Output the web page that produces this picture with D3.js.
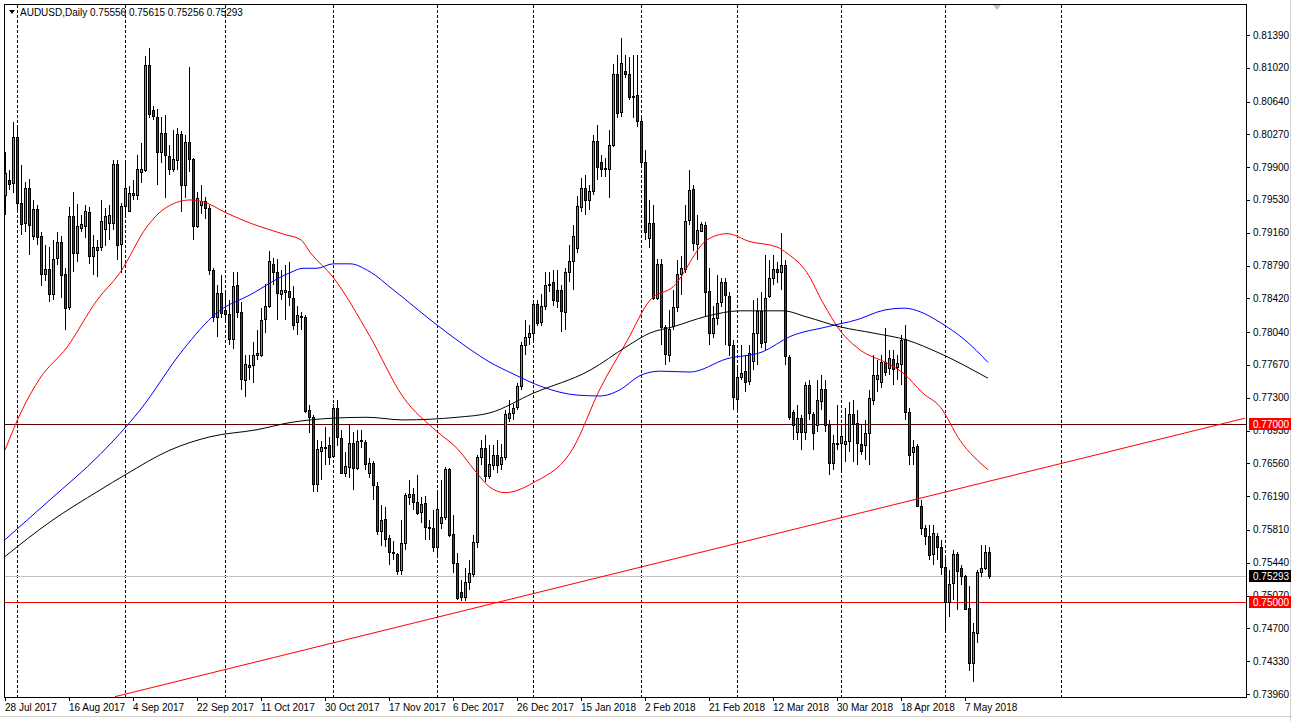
<!DOCTYPE html>
<html><head><meta charset="utf-8">
<script src="https://cdn.jsdelivr.net/npm/d3@7"></script>
<style>body{margin:0;background:#fff}text{font-family:"Liberation Sans",Arial,sans-serif;font-size:10px}</style>
</head><body>
<script>
// daily candles, prices in 1/10000 (o,h,l,c)
const candles = [
[7958,8007,7936,7983],[7976,7987,7964,7972],[7972,8041,7961,8024],[8024,8037,7939,7950],[7950,7992,7913,7926],
[7926,7973,7917,7966],[7966,7977,7891,7924],[7913,7953,7908,7943],[7943,7947,7902,7911],[7912,7917,7856,7869],
[7869,7902,7862,7875],[7875,7900,7838,7847],[7847,7908,7840,7887],[7888,7917,7880,7906],[7906,7912,7843,7869],
[7869,7876,7806,7831],[7832,7945,7829,7935],[7935,7962,7872,7893],[7893,7948,7883,7924],[7921,7936,7917,7926],
[7924,7947,7910,7941],[7940,7945,7881,7890],[7890,7913,7868,7900],[7897,7908,7866,7900],[7900,7953,7896,7929],
[7920,7944,7901,7935],[7927,7947,7908,7936],[7927,7998,7919,7994],[7994,7998,7885,7903],[7903,7950,7871,7946],
[7946,7998,7936,7966],[7941,7969,7939,7961],[7959,7975,7953,7961],[7959,8004,7953,7988],[7985,8017,7972,7988],
[7987,8115,7984,8105],[8105,8124,8045,8050],[8054,8059,8043,8047],[8047,8056,7970,8007],[8007,8047,7995,8028],
[8028,8049,7955,8003],[8003,8015,7981,7988],[7988,8032,7984,7999],[7998,8034,7987,8027],[8027,8031,7939,7969],
[7969,8026,7955,8018],[8018,8103,7984,7999],[7999,8000,7908,7923],[7923,7962,7921,7955],[7948,7970,7937,7952],
[7952,7956,7931,7944],[7944,7947,7868,7874],[7874,7876,7815,7821],[7821,7857,7798,7848],[7848,7868,7820,7825],
[7829,7849,7815,7824],[7824,7840,7790,7796],[7796,7872,7785,7856],[7857,7872,7820,7827],[7827,7838,7739,7751],
[7750,7778,7731,7768],[7765,7778,7750,7767],[7767,7793,7747,7778],[7779,7806,7773,7781],[7779,7831,7776,7818],
[7818,7858,7803,7833],[7833,7896,7831,7884],[7881,7888,7857,7872],[7872,7887,7818,7848],[7848,7874,7840,7852],
[7850,7880,7818,7852],[7850,7883,7833,7843],[7843,7856,7806,7812],[7815,7834,7801,7823],[7821,7827,7806,7822],
[7821,7823,7713,7715],[7716,7722,7690,7708],[7708,7711,7624,7633],[7633,7682,7624,7672],[7669,7681,7637,7674],
[7674,7697,7654,7675],[7677,7686,7654,7664],[7665,7723,7662,7719],[7718,7727,7676,7685],[7685,7694,7645,7645],
[7645,7669,7641,7653],[7652,7699,7640,7679],[7679,7691,7626,7651],[7651,7694,7649,7681],[7681,7694,7673,7682],
[7680,7682,7649,7655],[7645,7662,7640,7656],[7656,7659,7615,7631],[7631,7635,7575,7580],[7580,7609,7563,7592],
[7593,7607,7562,7571],[7572,7575,7542,7556],[7556,7569,7547,7555],[7554,7555,7530,7535],[7535,7592,7530,7566],
[7566,7623,7558,7620],[7619,7637,7609,7622],[7622,7628,7604,7613],[7613,7643,7598,7601],[7601,7618,7589,7610],
[7611,7619,7570,7584],[7584,7592,7570,7583],[7583,7604,7556,7562],[7562,7626,7553,7605],[7589,7637,7582,7596],
[7596,7652,7592,7650],[7650,7651,7573,7576],[7576,7598,7532,7543],[7544,7555,7502,7505],[7511,7525,7501,7505],
[7505,7538,7501,7522],[7522,7547,7513,7532],[7531,7575,7528,7567],[7567,7665,7561,7663],[7663,7682,7654,7673],
[7673,7688,7635,7641],[7641,7677,7638,7655],[7655,7677,7649,7666],[7666,7682,7645,7655],[7655,7678,7649,7663],
[7663,7716,7660,7712],[7707,7727,7703,7713],[7713,7723,7705,7719],[7719,7747,7716,7743],[7743,7793,7739,7789],
[7789,7818,7778,7798],[7798,7812,7789,7803],[7803,7840,7795,7836],[7836,7840,7811,7815],[7815,7847,7811,7833],
[7833,7872,7829,7857],[7857,7872,7849,7858],[7860,7874,7834,7840],[7852,7874,7831,7840],[7851,7857,7804,7827],
[7827,7876,7806,7872],[7872,7902,7861,7884],[7884,7925,7851,7912],[7899,7957,7893,7946],[7946,7978,7939,7967],
[7967,7981,7936,7953],[7953,7970,7942,7963],[7963,8026,7959,8019],[8019,8037,7975,7990],[7996,8004,7979,7988],
[7988,8000,7979,7989],[7988,8032,7955,8015],[8015,8106,8013,8095],[8095,8116,8045,8051],[8052,8136,8046,8107],
[8098,8116,8090,8095],[8095,8114,8066,8069],[8070,8116,8045,8069],[8071,8116,8035,8042],[8042,8049,7992,7996],
[7996,8009,7908,7917],[7910,7953,7899,7927],[7927,7947,7840,7843],[7843,7887,7840,7881],[7881,7887,7790,7810],
[7810,7812,7767,7779],[7778,7829,7770,7807],[7811,7851,7806,7832],[7832,7885,7827,7869],[7869,7890,7846,7876],
[7875,7947,7871,7929],[7930,7987,7925,7964],[7965,7970,7896,7904],[7903,7936,7885,7919],[7918,7928,7917,7926],
[7925,7928,7821,7849],[7850,7876,7790,7803],[7803,7834,7797,7820],[7820,7868,7812,7837],[7837,7865,7832,7860],
[7860,7865,7790,7845],[7845,7849,7777,7790],[7789,7795,7716,7730],[7728,7767,7713,7753],[7753,7789,7750,7758],
[7760,7778,7737,7748],[7748,7789,7744,7780],[7771,7840,7761,7803],[7803,7842,7767,7828],[7828,7849,7786,7792],
[7792,7891,7784,7842],[7845,7885,7842,7865],[7865,7891,7857,7875],[7875,7883,7859,7872],[7872,7916,7851,7880],
[7880,7885,7767,7777],[7776,7778,7705,7708],[7714,7716,7682,7699],[7691,7722,7682,7707],[7707,7711,7671,7691],
[7691,7748,7682,7744],[7744,7750,7705,7712],[7712,7714,7671,7691],[7699,7750,7691,7727],[7727,7756,7716,7740],
[7740,7750,7691,7699],[7699,7705,7643,7656],[7656,7688,7649,7679],[7678,7722,7671,7679],[7679,7699,7649,7687],
[7678,7718,7658,7681],[7681,7725,7669,7712],[7712,7727,7658,7701],[7701,7716,7654,7678],[7678,7699,7665,7670],
[7677,7705,7660,7690],[7691,7739,7654,7730],[7728,7778,7722,7756],[7751,7773,7737,7756],[7748,7778,7741,7770],
[7770,7809,7754,7759],[7764,7784,7756,7775],[7774,7784,7744,7763],[7764,7778,7750,7769],[7768,7801,7744,7795],
[7796,7812,7705,7714],[7714,7719,7654,7665],[7668,7682,7654,7674],[7676,7678,7608,7608],[7608,7615,7575,7583],
[7583,7587,7564,7574],[7574,7587,7547,7553],[7553,7587,7541,7577],[7574,7578,7547,7562],[7562,7570,7530,7539],
[7539,7553,7468,7500],[7500,7536,7483,7520],[7521,7558,7502,7554],[7554,7556,7491,7535],[7538,7542,7519,7529],
[7529,7530,7491,7492],[7493,7518,7422,7431],[7431,7476,7410,7466],[7465,7536,7454,7534],[7534,7564,7528,7538],
[7538,7564,7536,7556],[7556,7562,7526,7529]
];
// moving averages: [bar, price*10000]
const maRed = [[0,7671],[4.25,7716],[8.75,7752],[15.5,7787],[23,7840],[28.75,7871],[35.5,7923],[39.5,7942],[46.25,7953],[49.5,7951],[55.5,7938],[61.25,7927],[70,7914],[74,7908],[76.25,7894],[82,7866],[91.25,7799],[99.5,7731],[108,7692],[113,7673],[118,7645],[121.25,7629],[125,7623],[132,7634],[142,7673],[148.75,7740],[155.5,7794],[161.25,7840],[167,7855],[175.5,7908],[180.5,7915],[186.25,7906],[193,7900],[195.5,7893],[200.5,7871],[204.5,7837],[208.75,7806],[213.75,7784],[220.5,7769],[224.5,7758],[229.5,7735],[233.75,7720],[238.75,7682],[245.75,7649]];
const maBlue = [[0,7570],[11.25,7615],[23.75,7666],[33.75,7716],[44.5,7784],[53,7826],[61.25,7846],[71.25,7871],[74.5,7876],[78,7876],[82,7881],[86.25,7881],[91.25,7872],[97,7852],[108,7812],[115.5,7787],[121.25,7770],[127,7757],[134.5,7742],[143,7733],[148.75,7732],[153.75,7739],[158.75,7755],[163.75,7760],[171.25,7759],[180.5,7774],[189.5,7782],[196.25,7799],[205.5,7810],[213,7818],[220,7829],[225,7831],[228.75,7827],[233.75,7815],[240,7795],[245.75,7770]];
const maBlack = [[0,7551],[11.25,7590],[23.75,7626],[30,7643],[41.25,7671],[51.25,7686],[63,7694],[71.25,7702],[82,7707],[90.5,7708],[99.5,7705],[113,7708],[121.25,7713],[132,7735],[146.25,7761],[155.5,7788],[161.25,7803],[167,7810],[175.5,7822],[183.75,7828],[194.5,7828],[200.5,7821],[208.75,7810],[217,7803],[225.5,7795],[233.75,7780],[245.75,7752]];
const dateLabels = ["28 Jul 2017","16 Aug 2017","4 Sep 2017","22 Sep 2017","11 Oct 2017","30 Oct 2017","17 Nov 2017","6 Dec 2017","26 Dec 2017","15 Jan 2018","2 Feb 2018","21 Feb 2018","12 Mar 2018","30 Mar 2018","18 Apr 2018","7 May 2018"];
const dateBars = [0,16,32,48,64,80,96,112,128,144,160,176,192,208,224,240];
const monthBars = [3,30,55,82,108,132,159,183,209,235,264];
const priceTicks = [0.8139,0.8102,0.8064,0.8027,0.7990,0.7953,0.7916,0.7879,0.7842,0.7804,0.7767,0.7730,0.7693,0.7656,0.7619,0.7581,0.7544,0.7507,0.7470,0.7433,0.7396];
const levels = [0.7700, 0.7500];
const lastPrice = 0.75293;
const trend = [[27.5,0.7393],[310,0.7707]];

const W = 1292, H = 721, plotR = 1246, plotT = 5, plotB = 697;
const svg = d3.select('body').append('svg').attr('width', W).attr('height', H);
svg.append('rect').attr('width', W).attr('height', H).attr('fill', '#fff');

const x = d3.scaleLinear().domain([0, 246]).range([5, 989]);
const y = d3.scaleLinear().domain([0.7396, 0.8139]).range([694, 35]);
svg.append('clipPath').attr('id', 'c').append('rect')
	.attr('x', 5).attr('y', plotT).attr('width', plotR - 5).attr('height', plotB - plotT);
const g = svg.append('g').attr('clip-path', 'url(#c)').attr('shape-rendering', 'crispEdges');

// month separators
g.selectAll('.vg').data(monthBars).enter().append('line')
	.attr('x1', d => Math.round(x(d)) + 0.5).attr('x2', d => Math.round(x(d)) + 0.5)
	.attr('y1', plotT).attr('y2', plotB).attr('stroke', '#000').attr('stroke-dasharray', '3,2');

// horizontal levels
g.append('line').attr('x1', 5).attr('x2', plotR).attr('y1', Math.round(y(lastPrice)) + 0.5).attr('y2', Math.round(y(lastPrice)) + 0.5).attr('stroke', '#c0c0c0');
g.selectAll('.lv').data(levels).enter().append('line')
	.attr('x1', 5).attr('x2', plotR).attr('y1', d => Math.round(y(d)) + 0.5).attr('y2', d => Math.round(y(d)) + 0.5)
	.attr('stroke', d => d === 0.77 ? '#600000' : '#ff0000');

// moving averages
const mline = d3.line().x(d => x(d[0])).y(d => y(d[1] / 10000)).curve(d3.curveMonotoneX);
[[maRed, '#ff0000'], [maBlue, '#0000ff'], [maBlack, '#000']].forEach(([m, c]) => {
	svg.append('path').attr('clip-path', 'url(#c)').attr('d', mline(m)).attr('fill', 'none').attr('stroke', c).attr('stroke-width', 1);
});
// trendline
svg.append('line').attr('clip-path', 'url(#c)')
	.attr('x1', x(trend[0][0])).attr('y1', y(trend[0][1])).attr('x2', x(trend[1][0])).attr('y2', y(trend[1][1]))
	.attr('stroke', '#ff0000');

// candles
const cg = g.selectAll('.cd').data(candles).enter().append('g');
cg.append('line')
	.attr('x1', (d, i) => Math.round(x(i)) + 0.5).attr('x2', (d, i) => Math.round(x(i)) + 0.5)
	.attr('y1', d => Math.round(y(d[1] / 10000))).attr('y2', d => Math.round(y(d[2] / 10000)))
	.attr('stroke', '#000');
cg.append('rect')
	.attr('x', (d, i) => Math.round(x(i)) - 1 + 0.5)
	.attr('y', d => Math.round(y(Math.max(d[0], d[3]) / 10000)) + 0.5)
	.attr('width', 2)
	.attr('height', d => Math.max(1, Math.round(Math.abs(y(d[0] / 10000) - y(d[3] / 10000)))))
	.attr('fill', d => d[3] >= d[0] ? '#22d322' : '#e00000')
	.attr('stroke', '#000');

// frame
svg.append('rect').attr('x', 4.5).attr('y', 4.5).attr('width', plotR - 4).attr('height', plotB - 4)
	.attr('fill', 'none').attr('stroke', '#000').attr('shape-rendering', 'crispEdges');
svg.append('line').attr('x1', 0).attr('x2', W).attr('y1', 716.5).attr('y2', 716.5).attr('stroke', '#d4d0c8');
svg.append('line').attr('x1', 1290.5).attr('x2', 1290.5).attr('y1', 0).attr('y2', H).attr('stroke', '#d4d0c8');

// price axis (the 0.75070 tick sits under the 0.75000 tag, as in the terminal)
const pa = svg.append('g');
pa.selectAll('line').data(priceTicks).enter().append('line')
	.attr('x1', plotR).attr('x2', plotR + 4).attr('y1', d => Math.round(y(d)) + 0.5).attr('y2', d => Math.round(y(d)) + 0.5)
	.attr('stroke', '#000');
pa.selectAll('text').data(priceTicks).enter().append('text')
	.attr('x', plotR + 7).attr('y', d => y(d) + 3.5).text(d => d.toFixed(5));

function tag(v, bg) {
	const yy = Math.round(y(v));
	svg.append('rect').attr('x', plotR + 3).attr('y', yy - 6).attr('width', 42).attr('height', 12).attr('fill', bg);
	svg.append('text').attr('x', plotR + 7).attr('y', yy + 4).attr('fill', '#fff').text(v.toFixed(5));
}
tag(0.77, '#ff0000');
tag(lastPrice, '#000');
tag(0.75, '#ff0000');

// date axis
const da = svg.append('g');
da.selectAll('line').data(dateBars).enter().append('line')
	.attr('x1', d => Math.round(x(d)) + 0.5).attr('x2', d => Math.round(x(d)) + 0.5)
	.attr('y1', plotB).attr('y2', plotB + 4).attr('stroke', '#000');
da.selectAll('text').data(dateBars).enter().append('text')
	.attr('x', d => x(d)).attr('y', plotB + 14).text((d, i) => dateLabels[i]);

// header
svg.append('path').attr('d', 'M9,10 L15,10 L12,14 Z').attr('fill', '#000');
svg.append('text').attr('x', 20).attr('y', 16).text('AUDUSD,Daily  0.75556 0.75615 0.75256 0.75293');
svg.append('path').attr('d', 'M993,5 L1001,5 L997,10 Z').attr('fill', '#c0c0c0');
</script>
</body></html>
